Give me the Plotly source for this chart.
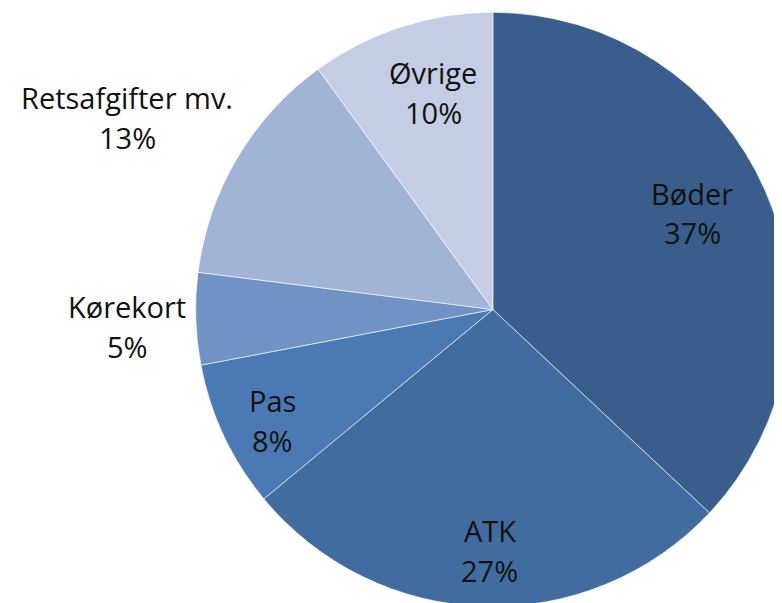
import plotly.graph_objects as go

# Fordeling af indtægter
categories = ['Bøder', 'ATK', 'Pas', 'Kørekort', 'Retsafgifter mv.', 'Øvrige']
values = [37, 27, 8, 5, 13, 10]
colors = ['#3A5E8C', '#416CA0', '#4A79B3', '#7092C4', '#A1B4D6', '#C4CDE3']

# label centres in window pixels (x, y)
label_pos = [(692, 213), (490, 550), (272, 420), (127, 326), (127, 117), (433, 93)]

W, H = 782, 603
PAGE = 8  # default body margin of the html page

fig = go.Figure(go.Pie(
    labels=categories,
    values=values,
    sort=False,
    direction='clockwise',
    rotation=0,
    marker=dict(colors=colors, line=dict(color='rgba(255,255,255,0.6)', width=1)),
    textinfo='none',
    hoverinfo='label+percent',
    domain=dict(x=[0.24, 1.0], y=[0, 1]),
    showlegend=False,
))

total = sum(values)
for name, val, (px_, py_) in zip(categories, values, label_pos):
    pct = f'{round(val / total * 100)}%'
    for txt, dy in [(name, -20), (pct, 20)]:
        fig.add_annotation(
            x=(px_ - PAGE) / W, y=1 - (py_ + dy - PAGE) / H, xref='paper', yref='paper',
            text=txt, showarrow=False,
            font=dict(family='Open Sans', size=29, color='#111111'),
            xanchor='center', yanchor='middle',
        )

fig.update_layout(
    width=W, height=H,
    margin=dict(l=0, r=0, t=0, b=0),
    paper_bgcolor='white',
    plot_bgcolor='white',
)

fig.write_html('out.html')
